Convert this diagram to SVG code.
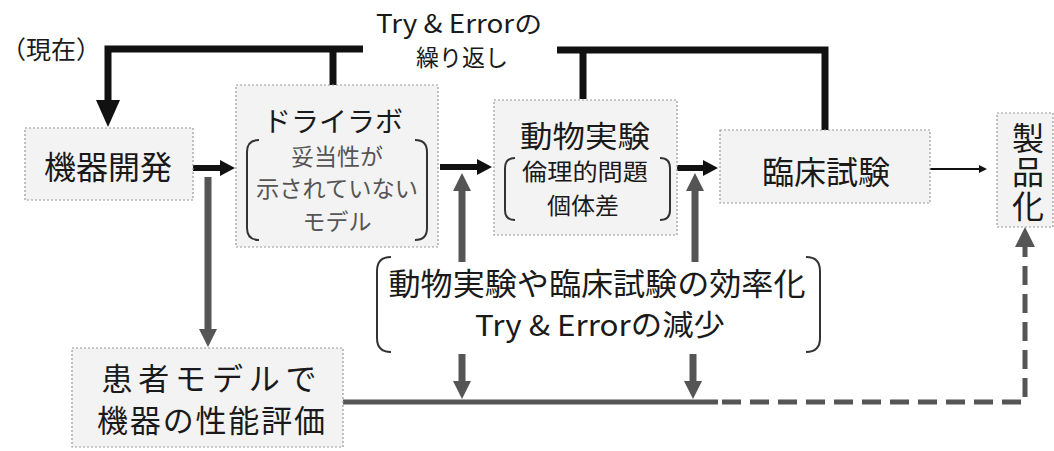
<svg xmlns="http://www.w3.org/2000/svg" width="1054" height="451" viewBox="0 0 1054 451">
<style>
text{font-family:"Noto Sans CJK JP","Noto Sans",sans-serif;fill:#1a1a1a;text-anchor:middle;dominant-baseline:central}
.box{fill:#f3f3f3;stroke:#9a9a9a;stroke-width:1.2;stroke-dasharray:2 2}
.brk{fill:none;stroke:#333;stroke-width:2}
.sub{fill:#555}
.blk{fill:none;stroke:#111;stroke-width:7}
.ha{fill:none;stroke:#111;stroke-width:6}
.gr{fill:none;stroke:#555;stroke-width:7}
.gl{fill:none;stroke:#555;stroke-width:5}
</style>
<defs>
<marker id="hBig" markerUnits="userSpaceOnUse" viewBox="0 0 27 24" refX="0" refY="12" markerWidth="27" markerHeight="24" orient="auto"><path d="M0,0 L27,12 L0,24 z" fill="#111"/></marker>
<marker id="hBlk" markerUnits="userSpaceOnUse" viewBox="0 0 15 16" refX="0" refY="8" markerWidth="15" markerHeight="16" orient="auto"><path d="M0,0 L15,8 L0,16 z" fill="#111"/></marker>
<marker id="hGr" markerUnits="userSpaceOnUse" viewBox="0 0 18 18" refX="0" refY="9" markerWidth="18" markerHeight="18" orient="auto"><path d="M0,0 L18,9 L0,18 z" fill="#555"/></marker>
<marker id="hGrL" markerUnits="userSpaceOnUse" viewBox="0 0 20 20" refX="0" refY="10" markerWidth="20" markerHeight="20" orient="auto"><path d="M0,0 L20,10 L0,20 z" fill="#555"/></marker>
<marker id="hThin" markerUnits="userSpaceOnUse" viewBox="0 0 8 8" refX="0" refY="4" markerWidth="8" markerHeight="8" orient="auto"><path d="M0,0 L8,4 L0,8 z" fill="#111"/></marker>
</defs>

<g id="labels">
<text x="51" y="48" font-size="25">（現在）</text>
<text x="459" y="22" font-size="25" textLength="166" lengthAdjust="spacingAndGlyphs">Try &amp; Errorの</text>
<text x="462" y="56" font-size="23">繰り返し</text>
</g>

<g id="connectors">
<path class="blk" d="M363,49 H108 V100" marker-end="url(#hBig)"/>
<path class="blk" d="M333,49 V85"/>
<path class="blk" d="M557,50 H825 V130"/>
<path class="blk" d="M583,50 V99"/>
<path class="ha" d="M193,168 H220" marker-end="url(#hBlk)"/>
<path class="ha" d="M440,167 H477" marker-end="url(#hBlk)"/>
<path class="ha" d="M675,168 H703" marker-end="url(#hBlk)"/>
<path fill="none" stroke="#111" stroke-width="2" d="M930,169 H979" marker-end="url(#hThin)"/>
<path class="gr" d="M208,177 V329" marker-end="url(#hGr)"/>
<path class="gr" d="M462,262 V191" marker-end="url(#hGr)"/>
<path class="gr" d="M695,262 V191" marker-end="url(#hGr)"/>
<path class="gr" d="M462,354 V381" marker-end="url(#hGr)"/>
<path class="gr" d="M693,354 V381" marker-end="url(#hGr)"/>
<path class="gl" d="M343,402 H718"/>
<path class="gl" stroke-dasharray="19 9" d="M722,402 H1025 V247" marker-end="url(#hGrL)"/>
</g>

<g id="node-kiki">
<rect class="box" x="25" y="128" width="168" height="72"/>
<text x="108" y="165" font-size="32">機器開発</text>
</g>

<g id="node-drylab">
<rect class="box" x="236" y="85" width="202" height="162"/>
<text x="333" y="120" font-size="28">ドライラボ</text>
<path class="brk" d="M259,140 Q247,140 247,152 V228 Q247,240 259,240"/>
<path class="brk" d="M415,140 Q427,140 427,152 V228 Q427,240 415,240"/>
<text class="sub" x="337" y="155" font-size="23">妥当性が</text>
<text class="sub" x="337" y="187" font-size="23" textLength="162" lengthAdjust="spacingAndGlyphs">示されていない</text>
<text class="sub" x="337" y="220" font-size="23">モデル</text>
</g>

<g id="node-animal">
<rect class="box" x="494" y="100" width="183" height="135"/>
<text x="585" y="134" font-size="30" textLength="130" lengthAdjust="spacingAndGlyphs">動物実験</text>
<path class="brk" d="M515,158 Q505,158 505,168 V210 Q505,220 515,220"/>
<path class="brk" d="M660,158 Q670,158 670,168 V210 Q670,220 660,220"/>
<text x="585" y="170" font-size="23" textLength="126" lengthAdjust="spacingAndGlyphs">倫理的問題</text>
<text x="583" y="204" font-size="23" textLength="72" lengthAdjust="spacingAndGlyphs">個体差</text>
</g>

<g id="node-clinical">
<rect class="box" x="720" y="130" width="210" height="73"/>
<text x="826" y="170" font-size="32">臨床試験</text>
</g>

<g id="node-product">
<rect class="box" x="997" y="113" width="56" height="114"/>
<text x="1028" y="173" font-size="32" writing-mode="vertical-rl" letter-spacing="2">製品化</text>
</g>

<g id="node-patient">
<rect class="box" x="72" y="348" width="271" height="99"/>
<text x="209" y="376" font-size="31" textLength="215" lengthAdjust="spacing">患者モデルで</text>
<text x="211" y="418" font-size="31" textLength="228" lengthAdjust="spacing">機器の性能評価</text>
</g>

<g id="node-efficiency">
<path class="brk" d="M391,257 Q377,257 377,271 V338 Q377,352 391,352"/>
<path class="brk" d="M806,257 Q820,257 820,271 V338 Q820,352 806,352"/>
<text x="597" y="281" font-size="31" textLength="417" lengthAdjust="spacingAndGlyphs">動物実験や臨床試験の効率化</text>
<text x="600" y="323" font-size="29" textLength="250" lengthAdjust="spacingAndGlyphs">Try &amp; Errorの減少</text>
</g>
</svg>
